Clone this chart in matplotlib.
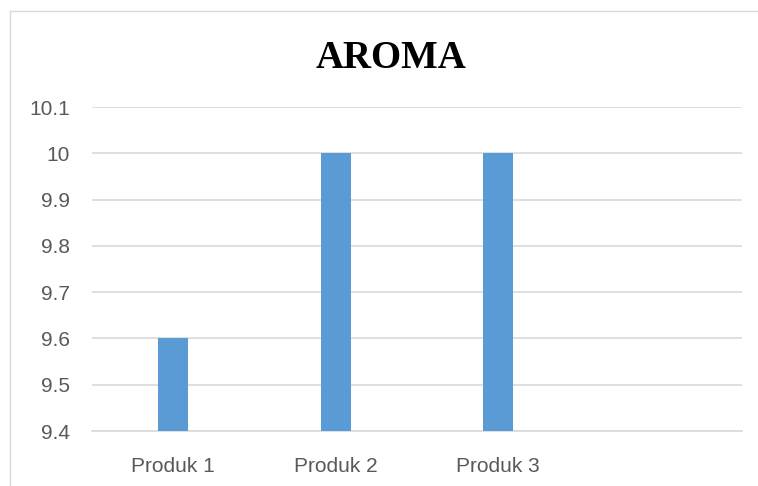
import matplotlib.pyplot as plt
import numpy as np

kategori = ["Produk 1", "Produk 2", "Produk 3", ""]
nilai = [9.6, 10.0, 10.0, np.nan]
yticks = [9.4, 9.5, 9.6, 9.7, 9.8, 9.9, 10.0, 10.1]
ylabels = ["9.4", "9.5", "9.6", "9.7", "9.8", "9.9", "10", "10.1"]

W, H = 758, 486
fig = plt.figure(figsize=(W / 100, H / 100), dpi=100)
ax = fig.add_axes([92 / W, (H - 431) / H, (742 - 92) / W, (431 - 107) / H])

x = np.arange(len(kategori))
ax.bar(x, nilai, width=0.184, color="#5B9BD5", zorder=3)
ax.set_xlim(-0.5, 3.5)
ax.set_ylim(9.4, 10.1)
ax.set_yticks(yticks)
ax.set_yticklabels(ylabels)
ax.set_xticks(x)
ax.set_xticklabels(kategori)
ax.grid(axis="y", color="#D9D9D9", linewidth=1.2, zorder=0)
for s in ax.spines.values():
    s.set_visible(False)
ax.axhline(9.4, color="#D9D9D9", linewidth=1.2, zorder=1, clip_on=False)
ax.tick_params(length=0, labelcolor="#595959", labelsize=15)
ax.tick_params(axis="y", pad=16)
ax.tick_params(axis="x", pad=19)
for t in ax.get_xticklabels() + ax.get_yticklabels():
    t.set_family("Liberation Sans")

fig.text(391 / W, 1 - 58 / H, "AROMA", ha="center", va="center",
         fontsize=28, fontweight="bold", family="Liberation Serif", color="black")

# chart border (left and top)
fig.add_artist(plt.Line2D([10 / W, 10 / W], [0, 1 - 11 / H], transform=fig.transFigure,
                          color="#D9D9D9", linewidth=1))
fig.add_artist(plt.Line2D([10 / W, 1], [1 - 11 / H, 1 - 11 / H], transform=fig.transFigure,
                          color="#D9D9D9", linewidth=1))

fig.savefig("out.png", dpi=100)
